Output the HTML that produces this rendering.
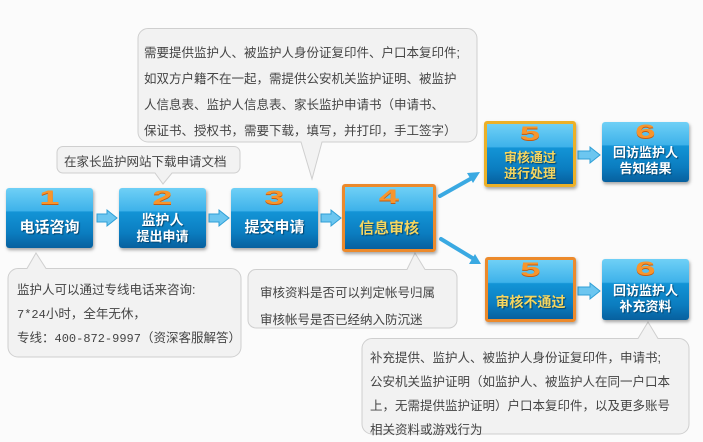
<!DOCTYPE html>
<html><head><meta charset="utf-8"><style>
body{margin:0;width:703px;height:442px;background:#fbfbfb;position:relative;overflow:hidden;font-family:"Liberation Sans","Noto Sans CJK SC",sans-serif}
.t{position:absolute;font-size:12.5px;color:#444;white-space:nowrap}
.box{position:absolute;border-radius:3px;background:linear-gradient(#6fd0f6 0%,#3eb2ea 38%,#1394d6 40%,#0b7dc0 75%,#07609e 100%);box-shadow:1px 2px 3px rgba(0,0,0,.35);color:#fff;font-weight:bold;text-align:center;text-shadow:1px 1px 1px #03446e}
.box .n{position:absolute;left:0;right:0;top:1px;font-size:19px;line-height:20px;color:#f7952c;font-family:"Liberation Sans",sans-serif;font-weight:900;text-shadow:0 1px 0 #c45a10;transform:scaleX(1.9)}
.box .l{position:absolute;left:0;right:0;font-size:14px;line-height:16px}
.o{border:3px solid #ec8a2c;box-sizing:border-box}
.y{border:3px solid #ecb028;box-sizing:border-box}
.g{color:#f5d660}
</style></head><body>
<svg width="703" height="442" style="position:absolute;left:0;top:0">
<g fill="#f2f2f2" stroke="#cfcfcf" stroke-width="1">
<path d="M148,28.5H467a10,10 0 0 1 10,10V132a10,10 0 0 1-10,10H322L312,179L301,142H148a10,10 0 0 1-10-10V38.5a10,10 0 0 1 10-10Z"/>
<path d="M63,146.5H234a6,6 0 0 1 6,6V167a6,6 0 0 1-6,6H172L163,184L155,173H63a6,6 0 0 1-6-6V152.5a6,6 0 0 1 6-6Z"/>
<path d="M18,268.5H27L36,253L46,268.5H231a10,10 0 0 1 10,10V347a10,10 0 0 1-10,10H18a10,10 0 0 1-10-10V278.5a10,10 0 0 1 10-10Z"/>
<path d="M256,269.5H407L415,253L425,269.5H449a8,8 0 0 1 8,8V320a8,8 0 0 1-8,8H256a8,8 0 0 1-8-8V277.5a8,8 0 0 1 8-8Z"/>
<path d="M372,338.5H638L648,322L658,338.5H679a10,10 0 0 1 10,10V424a10,10 0 0 1-10,10H372a10,10 0 0 1-10-10V348.5a10,10 0 0 1 10-10Z"/>
</g>
<g fill="#6cc6f0" stroke="#2f9fd6" stroke-width="1">
<path d="M97,214h10v-4l10,8l-10,8v-4h-10z"/>
<path d="M209,214h10v-4l10,8l-10,8v-4h-10z"/>
<path d="M321,214h10v-4l10,8l-10,8v-4h-10z"/>
<path d="M578,151h12v-4l10,8l-10,8v-4h-12z"/>
<path d="M578,287h12v-4l10,8l-10,8v-4h-12z"/>
</g>
<g stroke="#3aa9e2" stroke-width="4" stroke-linecap="round"><line x1="440" y1="196" x2="472" y2="178"/><line x1="441" y1="239" x2="474" y2="259"/></g>
<g fill="#3aa9e2"><path d="M480,172l-13,1l6,10z"/><path d="M481,264l-6,-10l-6,10z"/></g>
</svg>
<div class="t" style="left:144px;top:40px;line-height:26px">需要提供监护人、被监护人身份证复印件、户口本复印件;<br>如双方户籍不在一起，需提供公安机关监护证明、被监护<br>人信息表、监护人信息表、家长监护申请书（申请书、<br>保证书、授权书，需要下载，填写，并打印，手工签字）</div>
<div class="t" style="left:64px;top:151px">在家长监护网站下载申请文档</div>
<div class="t" style="left:17px;top:279px;line-height:23.5px">监护人可以通过专线电话来咨询:<br><span style="font-family:'Liberation Mono','Noto Sans CJK SC',monospace;font-size:12px">7*24</span>小时，全年无休，<br>专线：<span style="font-family:'Liberation Mono','Noto Sans CJK SC',monospace;font-size:12px">400-872-9997</span>（资深客服解答）</div>
<div class="t" style="left:260px;top:280px;line-height:27px">审核资料是否可以判定帐号归属<br>审核帐号是否已经纳入防沉迷</div>
<div class="t" style="left:370px;top:346px;line-height:24px">补充提供、监护人、被监护人身份证复印件，申请书;<br>公安机关监护证明（如监护人、被监护人在同一户口本<br>上，无需提供监护证明）户口本复印件，以及更多账号<br>相关资料或游戏行为</div>

<div class="box" style="left:6px;top:188px;width:87px;height:60px"><div class="n">1</div><div class="l" style="top:32px;font-size:15px">电话咨询</div></div>
<div class="box" style="left:119px;top:188px;width:87px;height:60px"><div class="n">2</div><div class="l" style="top:24px">监护人<br><span style="font-size:13px">提出申请</span></div></div>
<div class="box" style="left:231px;top:188px;width:87px;height:60px"><div class="n">3</div><div class="l" style="top:32px;font-size:15px">提交申请</div></div>
<div class="box o" style="left:342px;top:184px;width:94px;height:68px"><div class="n">4</div><div class="l g" style="top:34px;font-size:15px">信息审核</div></div>
<div class="box y" style="left:484px;top:121px;width:92px;height:66px"><div class="n">5</div><div class="l g" style="top:26px;font-size:13px">审核通过<br>进行处理</div></div>
<div class="box" style="left:602px;top:122px;width:87px;height:60px"><div class="n">6</div><div class="l" style="top:23px;font-size:13px">回访监护人<br>告知结果</div></div>
<div class="box o" style="left:485px;top:257px;width:91px;height:65px"><div class="n">5</div><div class="l g" style="top:34px;font-size:14px">审核不通过</div></div>
<div class="box" style="left:602px;top:259px;width:87px;height:61px"><div class="n">6</div><div class="l" style="top:24px;font-size:13px">回访监护人<br>补充资料</div></div>
</body></html>
